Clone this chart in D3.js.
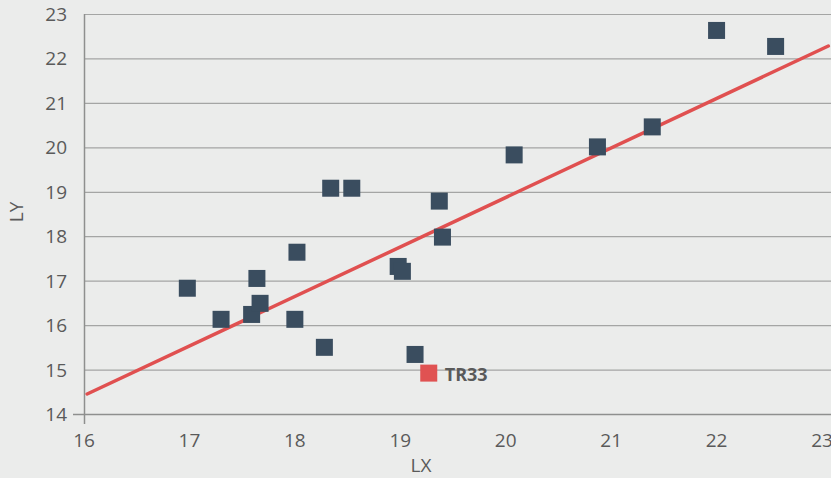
<html lang="en">
<head>
    <meta charset="UTF-8">
    <title>LX vs LY</title>
    <style>
        body { margin: 0; background: #ebeceb; }
        text { font-family: "Open Sans", sans-serif; fill: #5a5a5a; }
    </style>
</head>
<body>
    <script src="https://d3js.org/d3.v7.min.js"></script>
    <div id="my_dataviz"></div>
    <script>
        // Data
        var lx = [16.98, 17.30, 17.59, 17.67, 17.64, 18.02, 18.00, 18.28, 18.34, 18.54,
                  18.98, 19.02, 19.14, 19.37, 19.40, 20.08, 20.87, 21.39, 22.00, 22.56]
        var ly = [16.83, 16.13, 16.24, 16.49, 17.05, 17.64, 16.13, 15.50, 19.08, 19.08,
                  17.32, 17.21, 15.34, 18.79, 17.98, 19.83, 20.01, 20.46, 22.63, 22.27]
        var highlightName = ["TR33"]
        var highlightX = [19.27]
        var highlightY = [14.92]
        // trend line end points
        var trendX = [16.03, 23.06]
        var trendY = [14.45, 22.28]
        var xTicks = [16, 17, 18, 19, 20, 21, 22, 23]
        var yTicks = [14, 15, 16, 17, 18, 19, 20, 21, 22, 23]

        var width = 831
        var height = 478

        var svg = d3.select("#my_dataviz")
            .append("svg")
            .attr("width", width)
            .attr("height", height)

        var x = d3.scaleLinear().domain([16, 23]).range([84, 822])
        var y = d3.scaleLinear().domain([14, 23]).range([414, 14])

        // grid lines
        svg.append("g")
            .selectAll("line")
            .data(yTicks.slice(1))
            .enter()
            .append("line")
            .attr("x1", x(16))
            .attr("x2", width)
            .attr("y1", function (d) { return y(d) + 0.5 })
            .attr("y2", function (d) { return y(d) + 0.5 })
            .attr("stroke", "#a4a5a4")
            .attr("stroke-width", 1.2)

        // axis lines
        svg.append("line")
            .attr("x1", x(16) - 11).attr("x2", width)
            .attr("y1", y(14) + 0.5).attr("y2", y(14) + 0.5)
            .attr("stroke", "#8e8f8e").attr("stroke-width", 1.5)
        svg.append("line")
            .attr("x1", x(16) + 0.5).attr("x2", x(16) + 0.5)
            .attr("y1", y(23)).attr("y2", y(14) + 10)
            .attr("stroke", "#8e8f8e").attr("stroke-width", 1.5)

        // tick labels
        svg.append("g")
            .selectAll("text")
            .data(yTicks)
            .enter()
            .append("text")
            .attr("x", 67)
            .attr("y", function (d) { return y(d) })
            .attr("text-anchor", "end")
            .attr("dominant-baseline", "central")
            .style("font-size", "19px")
            .text(function (d) { return d })

        svg.append("g")
            .selectAll("text")
            .data(xTicks)
            .enter()
            .append("text")
            .attr("x", function (d) { return x(d) })
            .attr("y", 440)
            .attr("text-anchor", "middle")
            .attr("dominant-baseline", "central")
            .style("font-size", "19px")
            .text(function (d) { return d })

        // axis titles
        svg.append("text")
            .attr("x", 421).attr("y", 465)
            .attr("text-anchor", "middle")
            .attr("dominant-baseline", "central")
            .style("font-size", "19px")
            .text("LX")
        svg.append("text")
            .attr("transform", "translate(16,212) rotate(-90)")
            .attr("text-anchor", "middle")
            .attr("dominant-baseline", "central")
            .style("font-size", "19px")
            .text("LY")

        // trend line
        svg.append("line")
            .attr("x1", x(trendX[0])).attr("y1", y(trendY[0]))
            .attr("x2", x(trendX[1])).attr("y2", y(trendY[1]))
            .attr("stroke", "#e05050")
            .attr("stroke-width", 3.5)
            .attr("stroke-linecap", "round")

        // points
        var s = 17
        svg.append("g")
            .selectAll("rect")
            .data(lx)
            .enter()
            .append("rect")
            .attr("x", function (d) { return x(d) - s / 2 })
            .attr("y", function (d, i) { return y(ly[i]) - s / 2 })
            .attr("width", s)
            .attr("height", s)
            .attr("fill", "#3a4d5f")

        // highlighted point
        svg.append("g")
            .selectAll("rect")
            .data(highlightX)
            .enter()
            .append("rect")
            .attr("x", function (d) { return x(d) - s / 2 })
            .attr("y", function (d, i) { return y(highlightY[i]) - s / 2 })
            .attr("width", s)
            .attr("height", s)
            .attr("fill", "#e05252")

        svg.append("g")
            .selectAll("text")
            .data(highlightX)
            .enter()
            .append("text")
            .attr("x", function (d) { return x(d) + 16 })
            .attr("y", function (d, i) { return y(highlightY[i]) + 1 })
            .attr("dominant-baseline", "central")
            .style("font-size", "18px")
            .style("font-weight", "bold")
            .text(function (d, i) { return highlightName[i] })
    </script>
</body>
</html>
